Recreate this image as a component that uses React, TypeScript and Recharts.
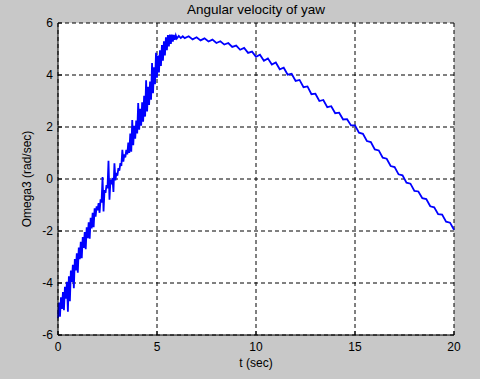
import { LineChart, Line, XAxis, YAxis, CartesianGrid, Label } from 'recharts';

// sample times (s)
const timeSec = [
  0, 0.05, 0.1, 0.15, 0.2, 0.25, 0.3, 0.35, 0.4, 0.45,
  0.5, 0.55, 0.6, 0.65, 0.7, 0.75, 0.8, 0.85, 0.9, 0.95,
  1, 1.05, 1.1, 1.15, 1.2, 1.25, 1.3, 1.35, 1.4, 1.45,
  1.5, 1.55, 1.6, 1.65, 1.7, 1.75, 1.8, 1.85, 1.9, 1.95,
  2, 2.05, 2.1, 2.15, 2.2, 2.25, 2.3, 2.35, 2.4, 2.45,
  2.5, 2.55, 2.6, 2.65, 2.7, 2.75, 2.8, 2.85, 2.9, 2.95,
  3, 3.05, 3.1, 3.15, 3.2, 3.25, 3.3, 3.35, 3.4, 3.45,
  3.5, 3.55, 3.6, 3.65, 3.7, 3.75, 3.8, 3.85, 3.9, 3.95,
  4, 4.05, 4.1, 4.15, 4.2, 4.25, 4.3, 4.35, 4.4, 4.45,
  4.5, 4.55, 4.6, 4.65, 4.7, 4.75, 4.8, 4.85, 4.9, 4.95,
  5, 5.05, 5.1, 5.15, 5.2, 5.25, 5.3, 5.35, 5.4, 5.45,
  5.5, 5.55, 5.6, 5.65, 5.7, 5.75, 5.8, 5.85, 5.9, 5.95,
  6, 6.1, 6.2, 6.3, 6.4,
  6.6, 6.8, 7, 7.2, 7.4, 7.6, 7.8, 8, 8.2, 8.4,
  8.6, 8.8, 9, 9.2, 9.4, 9.6, 9.8, 10, 10.2, 10.4,
  10.6, 10.8, 11, 11.2, 11.4, 11.6, 11.8, 12, 12.2, 12.4,
  12.6, 12.8, 13, 13.2, 13.4, 13.6, 13.8, 14, 14.2, 14.4,
  14.6, 14.8, 15, 15.2, 15.4, 15.6, 15.8, 16, 16.2, 16.4,
  16.6, 16.8, 17, 17.2, 17.4, 17.6, 17.8, 18, 18.2, 18.4,
  18.6, 18.8, 19, 19.2, 19.4, 19.6, 19.8, 20,
];

// yaw rate (rad/sec)
const omega3 = [
  -5.35, -4.75, -5.3, -4.55, -5.0, -4.35, -5.05, -4.15, -4.6, -3.95,
  -5.1, -3.74, -4.7, -3.52, -3.96, -3.3, -4.2, -3.08, -3.52, -2.86,
  -3.6, -2.64, -3.08, -2.42, -3.05, -2.23, -2.65, -2.04, -2.7, -1.86,
  -2.28, -1.67, -2.3, -1.49, -1.9, -1.3, -1.85, -1.13, -1.45, -1.05,
  -1.2, -0.93, -1.3, -0.78, -0.9, 0.08, -1.25, -0.42, -0.53, -0.24,
  -0.35, 0.7, -0.8, -0.03, -0.2, 0.04, -0.5, 0.6, -0.05, 0.24,
  0.13, 0.42, 0.32, 0.61, 0.5, 1.12, 0.67, 0.95, 0.83, 1.12,
  0.95, 1.4, 1.0, 1.75, 1.05, 2.27, 1.3, 2.05, 1.55, 2.25,
  1.75, 2.92, 1.9, 2.7, 2.05, 2.95, 2.2, 3.2, 2.4, 3.8,
  2.6, 3.55, 2.85, 3.75, 3.05, 4.46, 3.3, 4.3, 3.65, 4.85,
  3.9, 4.75, 4.1, 4.95, 4.35, 5.15, 4.55, 5.3, 4.75, 5.45,
  4.95, 5.54, 5.1, 5.55, 5.2, 5.55, 5.28, 5.54, 5.35, 5.52,
  5.4, 5.5, 5.42, 5.49, 5.42,
  5.49, 5.37, 5.45, 5.33, 5.41, 5.29, 5.36, 5.23, 5.3, 5.17,
  5.23, 5.08, 5.13, 4.97, 5.04, 4.85, 4.9, 4.7, 4.78, 4.55,
  4.64, 4.4, 4.48, 4.22, 4.28, 4.01, 4.05, 3.77, 3.81, 3.53,
  3.56, 3.26, 3.28, 3.0, 3.04, 2.76, 2.8, 2.53, 2.55, 2.29,
  2.3, 2.06, 2.06, 1.78, 1.74, 1.46, 1.42, 1.14, 1.1, 0.82,
  0.78, 0.5, 0.46, 0.18, 0.14, -0.14, -0.18, -0.46, -0.48, -0.74,
  -0.77, -1.05, -1.09, -1.35, -1.37, -1.64, -1.68, -1.95,
];

const xTicks = [0, 5, 10, 15, 20];
const yTicks = [-6, -4, -2, 0, 2, 4, 6];

const data = timeSec.map((t, i) => ({ t, w: omega3[i] }));

const font = '"Liberation Sans", Arial, sans-serif';
const tickStyle = { fontSize: 12, fill: '#000', fontFamily: font };
const blank = () => '';

export default function App() {
  return (
    <div
      style={{
        position: 'absolute',
        left: 0,
        top: 0,
        width: 480,
        height: 379,
        background: '#c8c8c8',
        fontFamily: font,
      }}
    >
      <div
        style={{
          position: 'absolute',
          left: 58,
          width: 396,
          top: 2,
          textAlign: 'center',
          fontSize: 13.5,
          lineHeight: '16px',
          color: '#000',
        }}
      >
        Angular velocity of yaw
      </div>
      <LineChart
        width={480}
        height={379}
        data={data}
        margin={{ top: 23, right: 26, bottom: 0, left: 18 }}
      >
        <CartesianGrid stroke="#000" strokeDasharray="4 3" fill="#fff" />
        <XAxis
          dataKey="t"
          type="number"
          domain={[0, 20]}
          ticks={xTicks}
          height={44}
          stroke="#000"
          tick={tickStyle}
          tickSize={-4}
          tickMargin={11}
        >
          <Label
            value="t (sec)"
            position="insideBottom"
            offset={12}
            style={{ fontSize: 12, fill: '#000', fontFamily: font }}
          />
        </XAxis>
        <XAxis
          xAxisId="top"
          orientation="top"
          type="number"
          domain={[0, 20]}
          ticks={xTicks}
          height={0}
          stroke="#000"
          tickSize={-4}
          tickFormatter={blank}
        />
        <YAxis
          type="number"
          domain={[-6, 6]}
          ticks={yTicks}
          width={40}
          stroke="#000"
          tick={tickStyle}
          tickSize={-4}
          tickMargin={9}
        >
          <Label
            content={({ viewBox }: any) => {
              const cx = viewBox.x + 9;
              const cy = viewBox.y + viewBox.height / 2;
              return (
                <text
                  x={cx}
                  y={cy}
                  transform={`rotate(-90 ${cx} ${cy})`}
                  textAnchor="middle"
                  dominantBaseline="central"
                  style={{ fontSize: 12, fill: '#000', fontFamily: font }}
                >
                  Omega3 (rad/sec)
                </text>
              );
            }}
          />
        </YAxis>
        <YAxis
          yAxisId="right"
          orientation="right"
          type="number"
          domain={[-6, 6]}
          ticks={yTicks}
          width={0}
          stroke="#000"
          tickSize={-4}
          tickFormatter={blank}
        />
        <Line
          type="linear"
          dataKey="w"
          stroke="#0000ff"
          strokeWidth={1.8}
          strokeLinejoin="miter"
          dot={false}
          isAnimationActive={false}
        />
      </LineChart>
    </div>
  );
}
